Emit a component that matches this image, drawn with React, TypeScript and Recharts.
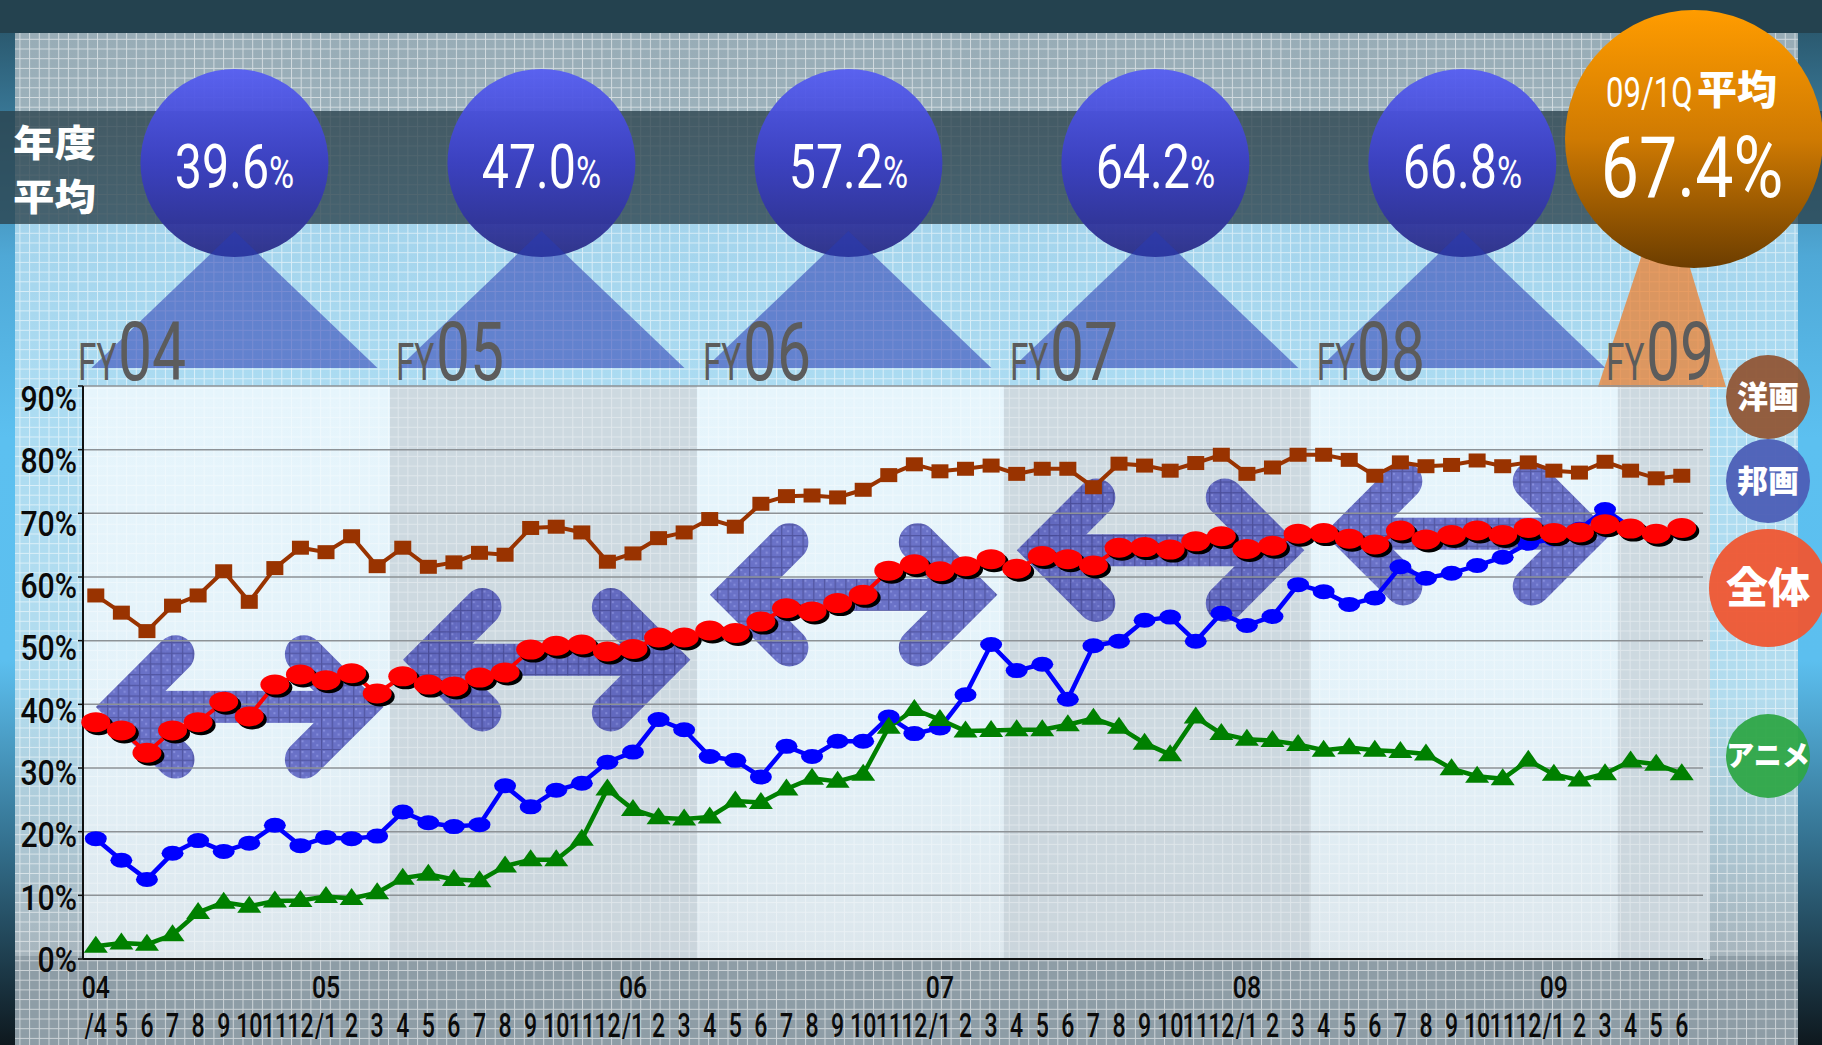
import React from 'react';
import { LineChart, Line, XAxis, YAxis, CartesianGrid } from 'recharts';

// ---------- data ----------
const MONTH_LABELS = [
  '/4', '5', '6', '7', '8', '9', '10', '11', '12', '/1', '2', '3',
  '4', '5', '6', '7', '8', '9', '10', '11', '12', '/1', '2', '3',
  '4', '5', '6', '7', '8', '9', '10', '11', '12', '/1', '2', '3',
  '4', '5', '6', '7', '8', '9', '10', '11', '12', '/1', '2', '3',
  '4', '5', '6', '7', '8', '9', '10', '11', '12', '/1', '2', '3',
  '4', '5', '6',
];
const YEAR_TICK_INDEX = [0, 9, 21, 33, 45, 57];
const YEAR_TICK_LABELS = ['04', '05', '06', '07', '08', '09'];

// 洋画
const YOUGA = [57.1, 54.4, 51.5, 55.5, 57.1, 60.9, 56.1, 61.4, 64.6, 63.9, 66.4, 61.7, 64.6, 61.6, 62.3, 63.8, 63.5, 67.7, 67.9, 67.0, 62.4, 63.7, 66.1, 67.0, 69.1, 67.9, 71.5, 72.7, 72.8, 72.5, 73.7, 76.0, 77.7, 76.6, 77.0, 77.5, 76.2, 77.0, 77.0, 74.1, 77.8, 77.5, 76.7, 77.9, 79.2, 76.2, 77.2, 79.2, 79.2, 78.4, 75.9, 78.0, 77.4, 77.6, 78.3, 77.4, 78.0, 76.7, 76.4, 78.1, 76.7, 75.5, 75.9];
// 邦画
const HOUGA = [18.9, 15.5, 12.5, 16.6, 18.6, 16.9, 18.2, 21.0, 17.8, 19.1, 18.9, 19.3, 23.1, 21.4, 20.8, 21.1, 27.2, 23.9, 26.5, 27.6, 30.9, 32.5, 37.6, 36.0, 31.8, 31.2, 28.6, 33.4, 31.8, 34.2, 34.2, 38.0, 35.4, 36.3, 41.5, 49.4, 45.3, 46.3, 40.8, 49.2, 49.9, 53.2, 53.7, 49.9, 54.3, 52.4, 53.8, 58.8, 57.7, 55.7, 56.7, 61.6, 59.8, 60.6, 61.8, 63.1, 65.3, 66.0, 67.5, 70.6, 67.8, 66.5, 67.0];
// 全体
const ZENTAI = [37.2, 35.9, 32.4, 35.9, 37.2, 40.4, 38.1, 43.1, 44.7, 43.8, 44.9, 41.7, 44.4, 43.1, 42.8, 44.2, 45.0, 48.6, 49.2, 49.4, 48.3, 48.7, 50.5, 50.5, 51.6, 51.2, 53.0, 55.1, 54.6, 55.9, 57.2, 61.0, 62.0, 60.9, 61.7, 62.8, 61.3, 63.3, 62.8, 61.8, 64.6, 64.7, 64.3, 65.6, 66.4, 64.4, 64.9, 66.8, 66.9, 66.0, 65.1, 67.3, 65.9, 66.6, 67.3, 66.6, 67.7, 66.9, 67.0, 68.3, 67.6, 66.8, 67.7];
// アニメ
const ANIME = [2.0, 2.5, 2.3, 3.8, 7.3, 8.9, 8.3, 9.1, 9.2, 9.8, 9.5, 10.4, 12.7, 13.3, 12.5, 12.3, 14.6, 15.6, 15.6, 18.8, 26.7, 23.5, 22.2, 22.0, 22.3, 24.8, 24.6, 26.7, 28.4, 27.9, 29.0, 36.4, 39.2, 37.6, 35.8, 35.9, 36.0, 36.0, 36.8, 37.8, 36.4, 33.9, 32.1, 38.0, 35.4, 34.5, 34.3, 33.7, 32.8, 33.2, 32.8, 32.6, 32.2, 29.9, 28.7, 28.3, 31.2, 29.0, 28.1, 29.1, 31.1, 30.6, 29.1];

const FY_LABELS = ['04', '05', '06', '07', '08', '09'];
const FY_AVG = [39.6, 47.0, 57.2, 64.2, 66.8];
const Q_AVG = 67.4;
const Q_LABEL_NUM = '09/1Q';
const Q_LABEL_JP = '平均';
const AVG_TITLE = ['年度', '平均'];
const Y_TICKS = [0, 10, 20, 30, 40, 50, 60, 70, 80, 90];
const LEGEND_NAMES = ['洋画', '邦画', '全体', 'アニメ'];
const LEGEND_COLORS = ['#905636', '#4c5eb6', '#ef5631', '#2ea747'];

const data = MONTH_LABELS.map((m, i) => ({
  i,
  youga: YOUGA[i],
  houga: HOUGA[i],
  zentai: ZENTAI[i],
  anime: ANIME[i],
}));
const X_TICKS = MONTH_LABELS.map((_, i) => i);

// ---------- layout ----------
const W = 1822;
const H = 1045;
const PLOT_L = 83;
const PLOT_T = 386;
const PLOT_R = 1703;
const PLOT_B = 959;
const PLOT_BG_R = 1710;
const X_MIN = -0.5;
const X_MAX = 62.83;
const Y_MAX = 90;
const NUM_FONT = "Roboto, 'Liberation Sans', sans-serif";
const JP_FONT = "'Noto Sans CJK JP', 'Noto Sans CJK SC', sans-serif";

const xOf = (i: number) => PLOT_L + ((i - X_MIN) / (X_MAX - X_MIN)) * (PLOT_R - PLOT_L);
const yOf = (v: number) => PLOT_B - (v / Y_MAX) * (PLOT_B - PLOT_T);

// ---------- custom marks ----------
const squareDot = (p: any) => (
  <rect key={`y${p.index}`} x={p.cx - 8.5} y={p.cy - 7} width={17} height={14} fill="#993300" />
);
const blueDot = (p: any) => (
  <ellipse key={`h${p.index}`} cx={p.cx} cy={p.cy} rx={11} ry={7.5} fill="#0000ff" />
);
const triDot = (p: any) => (
  <path
    key={`a${p.index}`}
    d={`M${p.cx},${p.cy - 10.5} L${p.cx + 12},${p.cy + 6.5} L${p.cx - 12},${p.cy + 6.5} Z`}
    fill="#008000"
  />
);
const redDot = (p: any) => (
  <g key={`z${p.index}`}>
    <ellipse cx={p.cx + 3} cy={p.cy + 3} rx={14.5} ry={10} fill="#000" />
    <ellipse cx={p.cx} cy={p.cy} rx={14.5} ry={10} fill="#ff0000" />
  </g>
);

const XTick = (p: any) => {
  const i = p.payload.value;
  const yi = YEAR_TICK_INDEX.indexOf(i);
  return (
    <g>
      {yi >= 0 && (
        <text
          transform={`translate(${p.x},${PLOT_B + 39}) scale(0.8,1)`}
          textAnchor="middle"
          fontSize={31}
          fontWeight={500}
          fontFamily={NUM_FONT}
          fill="#0a0a0a"
        >
          {YEAR_TICK_LABELS[yi]}
        </text>
      )}
      <text
        transform={`translate(${p.x},${PLOT_B + 78}) scale(0.7,1)`}
        textAnchor="middle"
        fontSize={33}
        fontWeight={500}
        fontFamily={NUM_FONT}
        fill="#0a0a0a"
      >
        {MONTH_LABELS[i]}
      </text>
    </g>
  );
};

const YTick = (p: any) => {
  const v = p.payload.value;
  return (
    <text
      transform={`translate(${p.x},${p.y + 13 + v * 0.135}) scale(0.84,1)`}
      textAnchor="end"
      fontSize={36}
      fontWeight={500}
      fontFamily={NUM_FONT}
      fill="#0a0a0a"
    >
      {`${v}%`}
    </text>
  );
};

const Arrow = ({ x1, x2, y }: { x1: number; x2: number; y: number }) => {
  const h = 52.7;
  const lv = x1 + 27;
  const rv = x2 - 27;
  const d = `M${lv + h},${y - h} L${lv},${y} L${lv + h},${y + h} M${rv - h},${y - h} L${rv},${y} L${rv - h},${y + h}`;
  return (
    <g opacity={0.68}>
      <rect x={lv} y={y - 16} width={rv - lv} height={32} fill="url(#hatch)" />
      <path d={d} fill="none" stroke="url(#hatch)" strokeWidth={38} strokeLinecap="round" strokeLinejoin="miter" />
    </g>
  );
};

const Background = () => {
  const bandStart = (k: number) => xOf(12 * k - 0.5);
  const bandEnd = (k: number) => (k === 5 ? PLOT_BG_R : xOf(12 * k + 11.5));
  const legendY = [397, 481, 588, 756];
  const legendR = [42, 42, 59, 42];
  const legendFont = [31, 31, 42, 28];
  return (
    <svg width={W} height={H} style={{ position: 'absolute', left: 0, top: 0 }}>
      <defs>
        <pattern id="grid" patternUnits="userSpaceOnUse" width={9.7} height={9.7}>
          <path d="M0,0.5 H9.7 M0.5,0 V9.7" stroke="#ffffff" strokeOpacity={0.55} strokeWidth={1} />
        </pattern>
        <pattern id="grid2" patternUnits="userSpaceOnUse" width={9.7} height={9.7}>
          <path d="M0,0.5 H9.7 M0.5,0 V9.7" stroke="#ffffff" strokeOpacity={0.6} strokeWidth={1} />
        </pattern>
        <pattern id="hatch" patternUnits="userSpaceOnUse" width={10.7} height={10.7}>
          <rect width={10.7} height={10.7} fill="#3035b0" />
          <rect x={2} y={2} width={2} height={2} fill="#5a5fd0" />
          <rect x={6} y={6} width={2} height={2} fill="#5a5fd0" />
          <path d="M0,0.6 H10.7 M0.6,0 V10.7" stroke="#0c0c78" strokeWidth={1.3} />
        </pattern>
        <linearGradient id="strip" gradientUnits="userSpaceOnUse" x1={0} y1={33} x2={0} y2={H}>
          <stop offset="0" stopColor="#2b5a70" />
          <stop offset="0.22" stopColor="#4fa8d6" />
          <stop offset="0.4" stopColor="#5cc0f0" />
          <stop offset="0.62" stopColor="#5cbfef" />
          <stop offset="0.8" stopColor="#34718f" />
          <stop offset="1" stopColor="#0e181e" />
        </linearGradient>
        <linearGradient id="panel" gradientUnits="userSpaceOnUse" x1={0} y1={33} x2={0} y2={956}>
          <stop offset="0" stopColor="#98acb6" />
          <stop offset="0.08" stopColor="#9cb1bb" />
          <stop offset="0.2" stopColor="#a4d4ec" />
          <stop offset="0.4" stopColor="#acdcf2" />
          <stop offset="0.72" stopColor="#b3dcee" />
          <stop offset="1" stopColor="#a7b5bd" />
        </linearGradient>
        <linearGradient id="plotbg" gradientUnits="userSpaceOnUse" x1={0} y1={PLOT_T} x2={0} y2={PLOT_B}>
          <stop offset="0" stopColor="#e6f5fc" />
          <stop offset="0.6" stopColor="#e4f2f9" />
          <stop offset="1" stopColor="#dce6ec" />
        </linearGradient>
        <linearGradient id="blueC" x1="0" y1="0" x2="0" y2="1">
          <stop offset="0" stopColor="#565ef2" />
          <stop offset="0.5" stopColor="#3b40c4" />
          <stop offset="1" stopColor="#2a2d86" />
        </linearGradient>
        <linearGradient id="orangeC" x1="0" y1="0" x2="0" y2="1">
          <stop offset="0" stopColor="#ff9c00" />
          <stop offset="0.5" stopColor="#cf7a02" />
          <stop offset="1" stopColor="#6c3d00" />
        </linearGradient>
      </defs>

      {/* base */}
      <rect x={0} y={0} width={W} height={H} fill="#22404d" />
      <rect x={0} y={33} width={15} height={H - 33} fill="url(#strip)" />
      <rect x={1798} y={33} width={W - 1798} height={H - 33} fill="url(#strip)" />
      <rect x={15} y={33} width={1783} height={923} fill="url(#panel)" />
      <rect x={15} y={956} width={1783} height={H - 956} fill="#8e9da6" />
      <rect x={15} y={33} width={1783} height={H - 33} fill="url(#grid)" />

      {/* plot background & fiscal-year bands */}
      <rect x={PLOT_L} y={PLOT_T} width={PLOT_BG_R - PLOT_L} height={PLOT_B - PLOT_T} fill="url(#plotbg)" />
      {[1, 3, 5].map((k) => (
        <rect
          key={`band${k}`}
          x={bandStart(k)}
          y={PLOT_T}
          width={bandEnd(k) - bandStart(k)}
          height={PLOT_B - PLOT_T}
          fill="#c3ced6"
          opacity={0.72}
        />
      ))}
      <rect x={PLOT_L} y={PLOT_T} width={PLOT_BG_R - PLOT_L} height={PLOT_B - PLOT_T} fill="url(#grid2)" opacity={0.6} />

      {/* arrows at each fiscal-year average */}
      {FY_AVG.map((v, k) => (
        <Arrow key={`arr${k}`} x1={xOf(12 * k)} x2={xOf(12 * k + 11.25)} y={yOf(v)} />
      ))}

      {/* annual average band */}
      <rect x={0} y={111} width={W} height={113} fill="#2a414c" opacity={0.78} />
      <text transform="translate(13,157) scale(1.12,1)" fontSize={37} fontWeight={900} fontFamily={JP_FONT} fill="#fff">
        {AVG_TITLE[0]}
      </text>
      <text transform="translate(13,211) scale(1.12,1)" fontSize={37} fontWeight={900} fontFamily={JP_FONT} fill="#fff">
        {AVG_TITLE[1]}
      </text>

      {/* top bar */}
      <rect x={0} y={0} width={W} height={33} fill="#24424f" />

      {/* blue average circles */}
      {FY_AVG.map((v, k) => {
        const cx = xOf(12 * k + 5.5) - 2;
        return (
          <g key={`c${k}`}>
            <circle cx={cx} cy={163} r={94} fill="url(#blueC)" opacity={0.95} />
            <text
              transform={`translate(${cx},188) scale(0.78,1)`}
              textAnchor="middle"
              fontSize={62}
              fontFamily={NUM_FONT}
              fill="#fff"
            >
              {v.toFixed(1)}
              <tspan fontSize={44}>%</tspan>
            </text>
          </g>
        );
      })}
      {FY_AVG.map((v, k) => {
        const cx = xOf(12 * k + 5.5) - 2;
        return (
          <path
            key={`t${k}`}
            d={`M${cx},231 L${cx + 143},368 L${cx - 143},368 Z`}
            fill="rgb(40,58,178)"
            opacity={0.55}
          />
        );
      })}

      {/* FY09 orange */}
      <path d={`M1665,185 L1726,387 L1598,387 Z`} fill="rgb(236,128,48)" opacity={0.75} />
      <circle cx={1694} cy={139} r={129} fill="url(#orangeC)" />
      <text
        transform={`translate(1606,107) scale(0.74,1)`}
        textAnchor="start"
        fontSize={42}
        fontFamily={NUM_FONT}
        fill="#fff"
      >
        {Q_LABEL_NUM}
      </text>
      <text x={1697} y={104} fontSize={40} fontWeight={900} fontFamily={JP_FONT} fill="#fff">
        {Q_LABEL_JP}
      </text>
      <text
        transform={`translate(1692,197) scale(0.8,1)`}
        textAnchor="middle"
        fontSize={85}
        fontFamily={NUM_FONT}
        fill="#fff"
      >
        {`${Q_AVG.toFixed(1)}%`}
      </text>

      {/* FY labels */}
      {FY_LABELS.map((lab, k) => {
        const x0 = Math.min(bandStart(k) + 6, 1606) - (k === 0 ? 11 : 0);
        return (
          <g key={`fy${k}`} fill="#5c5c5c" fontFamily={NUM_FONT} fontWeight={400}>
            <text transform={`translate(${x0},380) scale(0.64,1)`} fontSize={52}>FY</text>
            <text transform={`translate(${x0 + 40},380) scale(0.74,1)`} fontSize={82}>{lab}</text>
          </g>
        );
      })}

      {/* legend circles */}
      {LEGEND_NAMES.map((n, k) => (
        <g key={`lg${k}`}>
          <circle cx={1768} cy={legendY[k]} r={legendR[k]} fill={LEGEND_COLORS[k]} opacity={0.95} />
          <text
            x={1768}
            y={legendY[k] + legendFont[k] * 0.36}
            textAnchor="middle"
            fontSize={legendFont[k]}
            fontWeight={900}
            fontFamily={JP_FONT}
            fill="#fff"
          >
            {n}
          </text>
        </g>
      ))}
    </svg>
  );
};

export default function App() {
  return (
    <div style={{ position: 'absolute', left: 0, top: 0, width: W, height: H, overflow: 'hidden' }}>
      <Background />
      <div style={{ position: 'absolute', left: 0, top: 0 }}>
        <LineChart
          width={W}
          height={H}
          data={data}
          margin={{ top: PLOT_T, right: W - PLOT_R, bottom: 0, left: PLOT_L - 60 }}
        >
          <CartesianGrid vertical={false} stroke="#8d9296" strokeWidth={1.5} />
          <XAxis
            dataKey="i"
            type="number"
            domain={[X_MIN, X_MAX]}
            ticks={X_TICKS}
            interval={0}
            height={H - PLOT_B}
            axisLine={{ stroke: '#111', strokeWidth: 2 }}
            tickLine={false}
            tick={XTick}
          />
          <YAxis
            type="number"
            domain={[0, Y_MAX]}
            ticks={Y_TICKS}
            interval={0}
            width={60}
            tickSize={5}
            tickMargin={1}
            axisLine={{ stroke: '#111', strokeWidth: 2 }}
            tickLine={{ stroke: '#111', strokeWidth: 1.5 }}
            tick={YTick}
          />
          <Line type="linear" dataKey="youga" stroke="#993300" strokeWidth={4} dot={squareDot} activeDot={false} isAnimationActive={false} />
          <Line type="linear" dataKey="houga" stroke="#0000ff" strokeWidth={4.5} dot={blueDot} activeDot={false} isAnimationActive={false} />
          <Line type="linear" dataKey="anime" stroke="#008000" strokeWidth={4.5} dot={triDot} activeDot={false} isAnimationActive={false} />
          <Line type="linear" dataKey="zentai" stroke="#ff0000" strokeWidth={4} dot={redDot} activeDot={false} isAnimationActive={false} />
        </LineChart>
      </div>
    </div>
  );
}
